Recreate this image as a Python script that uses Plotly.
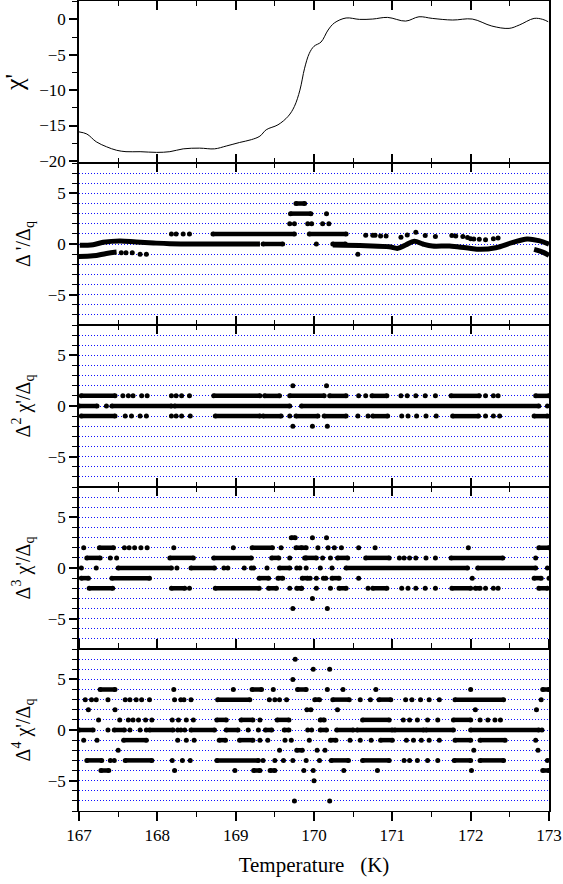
import plotly.graph_objects as go

# ---------------- data ----------------
# panel 1: chi' vs temperature
T_CHI = [167.0, 167.1, 167.22, 167.35, 167.48, 167.6, 167.78, 167.99, 168.16, 168.33, 168.54,
         168.73, 168.88, 169.05, 169.2, 169.31, 169.39, 169.54, 169.67, 169.75, 169.82, 169.88,
         169.94, 170.0, 170.09, 170.18, 170.26, 170.41, 170.58, 170.75, 170.94, 171.17, 171.34,
         171.51, 171.77, 172.02, 172.27, 172.49, 172.62, 172.81, 172.92, 172.99]
CHI = [-15.9, -16.2, -17.3, -18.0, -18.5, -18.7, -18.7, -18.8, -18.7, -18.3, -18.2,
       -18.3, -17.9, -17.4, -17.0, -16.5, -15.6, -14.9, -13.7, -12.3, -10.0, -6.9,
       -4.8, -3.8, -3.2, -1.5, -0.5, 0.2, 0.0, 0.05, 0.28, -0.24, 0.37,
       0.14, -0.09, 0.05, -0.94, -1.27, -0.8, 0.14, 0.0, -0.33]

# panel 2: smooth first-difference curves
P2_A1_T = [167.01, 167.18, 167.31, 167.52, 167.73, 167.95, 168.16, 168.6, 169.0, 169.31]
P2_A1_V = [-0.13, -0.07, 0.17, 0.3, 0.2, 0.1, 0.03, 0.0, 0.0, 0.0]
P2_A2_T = [170.24, 170.66, 170.96, 171.07, 171.17, 171.28, 171.39, 171.51, 171.73, 171.94,
           172.13, 172.32, 172.53, 172.72, 172.87, 173.0]
P2_A2_V = [-0.1, -0.17, -0.27, -0.43, -0.1, 0.27, 0.0, -0.2, -0.2, -0.37,
           -0.53, -0.37, 0.13, 0.5, 0.33, -0.03]
P2_B_T = [167.0, 167.18, 167.35, 167.48]
P2_B_V = [-1.23, -1.17, -0.93, -0.8]
P2_C_T = [172.81, 172.92, 173.0]
P2_C_V = [-0.53, -0.8, -1.13]
P2_FREE_T = [167.54, 167.6, 167.68, 167.78, 167.86,
             170.66, 170.75, 170.78, 170.85, 170.92, 171.11, 171.19, 171.30, 171.42, 171.55,
             171.76, 171.81, 171.90, 171.96, 172.0, 172.04, 172.11, 172.19, 172.29, 172.35]
P2_FREE_V = [-0.87, -0.87, -0.87, -1.0, -1.0,
             0.87, 0.87, 0.87, 0.8, 0.8, 0.67, 0.9, 1.17, 0.83, 0.73,
             0.83, 0.8, 0.73, 0.63, 0.53, 0.5, 0.47, 0.43, 0.53, 0.6]

# quantised differences: dots (isolated points) and runs (dense stretches) per level
P2_DOTS = {1: [168.18, 168.24, 168.33, 168.41], 0: [170.03], -1: [170.56],
           2: [169.69, 169.75, 169.92, 169.97, 170.11, 170.19], 3: [170.16]}
P2_RUNS = {1: [(168.71, 169.75), (169.94, 170.41)], 0: [(169.35, 169.60), (170.24, 170.40)],
           3: [(169.70, 169.96)], 4: [(169.77, 169.88)]}

P3_DOTS = {1: [167.56, 167.63, 167.69, 167.80, 167.87, 168.18, 168.24, 168.31, 168.41, 170.57, 170.66,
               171.11, 171.19, 171.30, 171.42, 171.55, 172.19, 172.29, 172.35],
           0: [167.35, 172.98],
           -1: [167.59, 167.67, 167.78, 167.86, 168.18, 168.24, 168.31, 168.42, 169.69, 170.56, 170.69,
                171.12, 171.20, 171.31, 171.43, 171.56, 172.19, 172.29, 172.37],
           2: [169.73, 170.16], -2: [169.73, 169.98, 170.17]}
P3_RUNS = {1: [(167.03, 167.46), (168.72, 169.31), (169.37, 169.56), (169.69, 170.13), (170.20, 170.41),
               (170.74, 170.93), (171.75, 172.11), (172.83, 173.0)],
           0: [(167.0, 167.23), (167.42, 168.18), (168.22, 169.69), (169.84, 172.87)],
           -1: [(167.03, 167.46), (168.74, 169.31), (169.35, 169.58), (169.77, 170.05), (170.13, 170.41),
                (170.75, 170.94), (171.77, 172.10), (172.81, 172.98)]}

P4_DOTS = {2: [167.06, 167.58, 167.64, 167.71, 167.79, 167.87, 168.21, 168.97, 169.58, 169.84, 170.05,
               170.18, 170.26, 170.35, 170.57, 170.78, 171.97],
           3: [169.98, 170.16],
           1: [167.40, 167.48, 169.69, 169.90, 170.11, 170.21, 171.09, 171.15, 171.22, 171.30, 171.43,
               171.55, 172.83],
           0: [167.03, 167.22, 168.25, 168.85, 168.90, 169.11, 169.20, 169.23, 169.40, 169.78, 169.82,
               169.90, 170.08, 170.23, 172.98],
           -1: [169.95, 170.03, 170.12, 170.15, 170.57, 172.02, 173.0],
           -2: [168.41, 169.69, 169.84, 170.03, 170.21, 170.69, 171.12, 171.20, 171.30, 171.42, 171.55,
                172.19, 172.29, 172.35],
           -3: [169.98], -4: [169.73, 170.17]}
P4_RUNS = {2: [(167.26, 167.44), (169.21, 169.47), (169.77, 169.90), (172.87, 173.0)],
           3: [(169.71, 169.76)],
           1: [(167.10, 167.27), (168.16, 168.46), (168.72, 169.20), (169.46, 169.55), (169.88, 170.03),
               (170.30, 170.43), (170.66, 170.96), (171.75, 172.41)],
           0: [(167.50, 168.18), (168.43, 168.73), (169.56, 169.69), (170.41, 171.96), (172.09, 172.83)],
           -1: [(167.03, 167.12), (167.42, 167.90), (169.30, 169.42), (169.54, 169.60), (169.85, 169.92),
                (170.23, 170.32), (172.81, 172.90)],
           -2: [(167.13, 167.43), (168.18, 168.35), (168.74, 169.30), (169.42, 169.52), (169.78, 169.84),
                (170.32, 170.41), (170.75, 170.93), (171.76, 172.00), (172.06, 172.12), (172.87, 172.98)]}

P5_DOTS = {7: [169.76], 6: [169.99, 170.20], 5: [169.73],
           4: [168.21, 168.97, 169.48, 170.17, 170.37, 170.79, 172.00],
           3: [167.08, 167.16, 167.22, 167.37, 167.59, 167.65, 167.73, 167.80, 167.90, 168.22, 168.30,
               168.34, 168.43, 169.43, 169.50, 169.56, 169.65, 170.59, 170.72, 171.17, 171.25, 171.36,
               171.47, 171.60, 172.90],
           2: [167.12, 167.46, 169.91, 169.96, 170.30, 172.06, 172.84],
           1: [167.25, 167.52, 167.63, 167.69, 167.76, 167.85, 167.93, 168.19, 168.27, 168.37, 168.46,
               169.31, 171.14, 171.22, 171.32, 171.45, 171.58, 172.12, 172.22, 172.31, 172.38],
           0: [167.37, 167.65, 167.78, 167.86, 168.26, 168.30, 168.35, 169.16, 169.29, 169.92, 169.97,
               172.91],
           -1: [167.06, 167.23, 168.26, 168.37, 168.47, 169.31, 169.41, 169.63, 169.71, 169.94, 170.46,
                170.59, 170.73, 171.18, 171.27, 171.37, 171.47, 171.60, 172.83],
           -2: [167.50, 169.56, 170.04, 170.14, 172.04, 172.86],
           -3: [167.40, 167.45, 168.19, 168.32, 168.42, 169.35, 169.50, 169.61, 169.73, 169.90, 170.07,
                171.15, 171.22, 171.32, 171.45, 171.58, 172.98],
           -4: [168.22, 168.99, 169.87, 169.99, 170.38, 170.81, 172.01],
           -5: [170.00], -7: [169.75, 170.20]}
P5_RUNS = {4: [(167.27, 167.46), (169.21, 169.33), (169.79, 169.90), (172.92, 173.0)],
           3: [(168.77, 169.18), (170.01, 170.07), (170.24, 170.45), (170.83, 170.98), (171.80, 172.42)],
           1: [(168.76, 168.88), (169.07, 169.22), (169.53, 169.68), (170.08, 170.13), (170.62, 170.96),
               (171.78, 172.00)],
           0: [(167.0, 167.18), (167.45, 167.58), (167.90, 168.20), (168.43, 168.73), (168.88, 169.03),
               (169.38, 169.46), (169.62, 169.68), (170.08, 170.16), (170.29, 170.50), (170.55, 171.00),
               (171.03, 171.40), (171.43, 171.78), (172.00, 172.87)],
           -1: [(167.57, 167.86), (168.79, 168.87), (169.05, 169.22), (170.21, 170.28), (170.85, 171.00),
                (171.80, 172.00), (172.12, 172.44)],
           -2: [(169.78, 169.85)],
           -3: [(167.10, 167.29), (167.59, 167.93), (168.76, 169.29), (170.22, 170.44), (170.62, 170.96),
                (171.79, 172.00), (172.12, 172.42)],
           -4: [(167.28, 167.38), (169.23, 169.31), (169.44, 169.50), (172.92, 173.0)]}

Y_TITLES = ["χ'", "Δ '/Δ<sub>q</sub>", "Δ<sup>2</sup> χ'/Δ<sub>q</sub>",
            "Δ<sup>3</sup> χ'/Δ<sub>q</sub>", "Δ<sup>4</sup> χ'/Δ<sub>q</sub>"]
X_TITLE = "Temperature   (K)"

# ---------------- figure ----------------
FONT = "Liberation Serif"
DOT = 5
RUNW = 4.5
GRID = "#1010ff"

fig = go.Figure()


def add_levels(dots, runs, n):
    xs, ys = [], []
    for lev, vals in dots.items():
        for v in vals:
            xs.append(v)
            ys.append(lev)
    fig.add_trace(go.Scatter(x=xs, y=ys, mode="markers", xaxis="x%d" % n, yaxis="y%d" % n,
                             marker=dict(size=DOT, color="black"), showlegend=False))
    rx, ry = [], []
    for lev, segs in runs.items():
        for a, b in segs:
            rx += [a, b, None]
            ry += [lev, lev, None]
    fig.add_trace(go.Scatter(x=rx, y=ry, mode="lines+markers", xaxis="x%d" % n, yaxis="y%d" % n,
                             line=dict(color="black", width=RUNW),
                             marker=dict(size=DOT, color="black"), showlegend=False))


# panel 1
fig.add_trace(go.Scatter(x=T_CHI, y=CHI, mode="lines", line=dict(color="black", width=1),
                         line_shape="spline", xaxis="x", yaxis="y", showlegend=False))

# panel 2 curves
for tx, vy in [(P2_A1_T, P2_A1_V), (P2_A2_T, P2_A2_V), (P2_B_T, P2_B_V), (P2_C_T, P2_C_V)]:
    fig.add_trace(go.Scatter(x=tx, y=vy, mode="lines", line=dict(color="black", width=5),
                             line_shape="spline", xaxis="x2", yaxis="y2", showlegend=False))
fig.add_trace(go.Scatter(x=P2_FREE_T, y=P2_FREE_V, mode="markers", xaxis="x2", yaxis="y2",
                         marker=dict(size=DOT, color="black"), showlegend=False))
add_levels(P2_DOTS, P2_RUNS, 2)
add_levels(P3_DOTS, P3_RUNS, 3)
add_levels(P4_DOTS, P4_RUNS, 4)
add_levels(P5_DOTS, P5_RUNS, 5)

DOMAINS = [[0.8, 1.0], [0.6, 0.8], [0.4, 0.6], [0.2, 0.4], [0.0, 0.2]]
layout = dict(width=563, height=884, margin=dict(l=79, r=13.6, t=1, b=73),
              plot_bgcolor="white", paper_bgcolor="white",
              font=dict(family=FONT, color="black", size=16))

for i in range(1, 6):
    sfx = "" if i == 1 else str(i)
    last = i == 5
    tdir = "outside" if last else "inside"
    layout["xaxis" + sfx] = dict(
        domain=[0, 1], anchor="y" + sfx, range=[167, 173], dtick=1, tick0=167,
        showline=True, linecolor="black", linewidth=1, mirror="ticks", automargin=False,
        ticks=tdir, ticklen=9, tickwidth=1.5, tickcolor="black",
        minor=dict(dtick=0.5, ticks=tdir, ticklen=5, tickwidth=1.2, tickcolor="black", showgrid=False),
        showgrid=False, zeroline=False, showticklabels=last,
        tickfont=dict(family=FONT, size=17),
        title=dict(text=X_TITLE if last else "", font=dict(family=FONT, size=21), standoff=12),
    )
    ya = dict(domain=DOMAINS[i - 1], anchor="x" + sfx, showline=True, linecolor="black",
              linewidth=1.5, mirror=True, ticks="outside", ticklen=8, tickwidth=1.5,
              tickcolor="black", zeroline=False, tickfont=dict(family=FONT, size=17),
              automargin=False)
    if i == 1:
        ya.update(range=[-20.3, 2.6], dtick=5, tick0=0, showgrid=False,
                  title=dict(text=Y_TITLES[0], font=dict(family=FONT, size=26), standoff=16),
                  minor=dict(dtick=2.5, ticks="outside", ticklen=5, tickwidth=1.2, tickcolor="black",
                             showgrid=False))
    else:
        ya.update(range=[-8, 8], dtick=5, tick0=0, showgrid=True, gridcolor=GRID,
                  gridwidth=1, griddash="1px,2px",
                  title=dict(text=Y_TITLES[i - 1], font=dict(family=FONT, size=20), standoff=12),
                  minor=dict(dtick=1, ticks="outside", ticklen=5, tickwidth=1.2, tickcolor="black",
                             showgrid=True, gridcolor=GRID, gridwidth=1, griddash="1px,2px"))
    layout["yaxis" + sfx] = ya

fig.update_layout(**layout)
fig.write_html("out.html", config={"displayModeBar": False},
               post_script="document.body.style.margin='0px';document.body.style.overflow='hidden';")
